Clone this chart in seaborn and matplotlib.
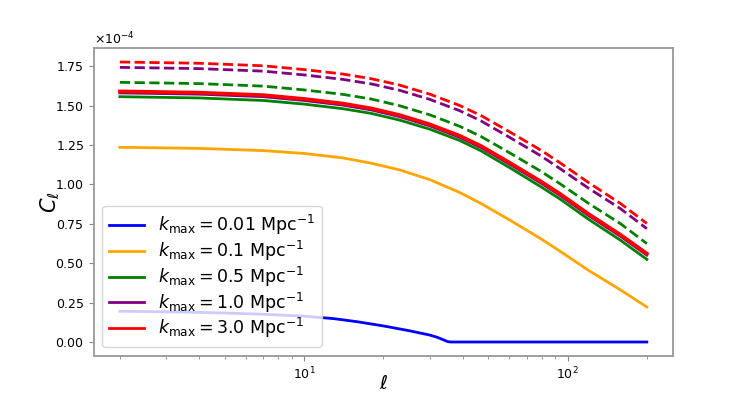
import matplotlib
matplotlib.use("Agg")
import matplotlib.pyplot as plt
import seaborn as sns

# multipoles and read-off values (units of 1e-4)
ell = [2, 4, 7, 10, 14, 18, 23, 30, 39, 47, 60, 79, 94, 120, 159, 200]

red_dashed = [1.776, 1.768, 1.752, 1.728, 1.700, 1.670, 1.630, 1.572, 1.500, 1.436,
              1.335, 1.218, 1.135, 1.012, 0.878, 0.752]
purple_dashed = [1.742, 1.734, 1.718, 1.694, 1.666, 1.637, 1.597, 1.539, 1.467, 1.402,
                 1.300, 1.182, 1.098, 0.976, 0.845, 0.719]
green_dashed = [1.647, 1.639, 1.623, 1.599, 1.571, 1.541, 1.499, 1.441, 1.368, 1.303,
                1.202, 1.084, 1.002, 0.880, 0.750, 0.624]
red_solid = [1.590, 1.582, 1.566, 1.542, 1.513, 1.482, 1.440, 1.381, 1.308, 1.243,
             1.140, 1.020, 0.938, 0.813, 0.680, 0.561]
purple_solid = [1.580, 1.572, 1.556, 1.532, 1.503, 1.472, 1.430, 1.371, 1.298, 1.233,
                1.130, 1.010, 0.928, 0.803, 0.670, 0.551]
green_solid = [1.556, 1.548, 1.532, 1.509, 1.480, 1.450, 1.408, 1.350, 1.278, 1.212,
               1.108, 0.986, 0.905, 0.779, 0.645, 0.524]
orange_solid = [1.235, 1.228, 1.214, 1.196, 1.168, 1.134, 1.092, 1.030, 0.948, 0.878,
                0.776, 0.656, 0.574, 0.455, 0.330, 0.222]

ell_blue = [2, 3, 5, 7, 10, 13, 16, 20, 25, 30, 32, 34, 35, 36, 50, 100, 200]
blue_solid = [0.195, 0.192, 0.184, 0.176, 0.164, 0.148, 0.128, 0.102, 0.072, 0.044,
              0.030, 0.012, 0.003, 0.0, 0.0, 0.0, 0.0]

labels = [r"$k_{\rm max} = 0.01\ {\rm Mpc}^{-1}$",
          r"$k_{\rm max} = 0.1\ {\rm Mpc}^{-1}$",
          r"$k_{\rm max} = 0.5\ {\rm Mpc}^{-1}$",
          r"$k_{\rm max} = 1.0\ {\rm Mpc}^{-1}$",
          r"$k_{\rm max} = 3.0\ {\rm Mpc}^{-1}$"]

fig, ax = plt.subplots(figsize=(7.48, 4), dpi=100)

solid = [(ell_blue, blue_solid, "blue"), (ell, orange_solid, "orange"),
         (ell, green_solid, "green"), (ell, purple_solid, "purple"),
         (ell, red_solid, "red")]
for (x, y, c), lab in zip(solid, labels):
    sns.lineplot(x=x, y=[v * 1e-4 for v in y], color=c, lw=2.6 if c == "red" else 2,
                 label=lab, ax=ax)

dashed = [(green_dashed, "green"), (purple_dashed, "purple"), (red_dashed, "red")]
for y, c in dashed:
    sns.lineplot(x=ell, y=[v * 1e-4 for v in y], color=c, lw=2, ls="--", ax=ax)

ax.set_xscale("log")
ax.ticklabel_format(axis="y", style="sci", scilimits=(0, 0), useMathText=True)
ax.set_xlabel(r"$\ell$", fontsize=14, labelpad=-6)
ax.set_ylabel(r"$C_\ell$", fontsize=15, labelpad=-5)
ax.tick_params(labelsize=9, color="#888888")
ax.tick_params(which="minor", color="#888888")
ax.yaxis.get_offset_text().set_fontsize(9)
for s in ax.spines.values():
    s.set_color("#999999")
    s.set_linewidth(1.3)

leg = ax.legend(loc="lower left", fontsize=12.5, labelspacing=0.1)
for h in leg.get_lines():
    h.set_linewidth(2)
fig.savefig("out.png")
